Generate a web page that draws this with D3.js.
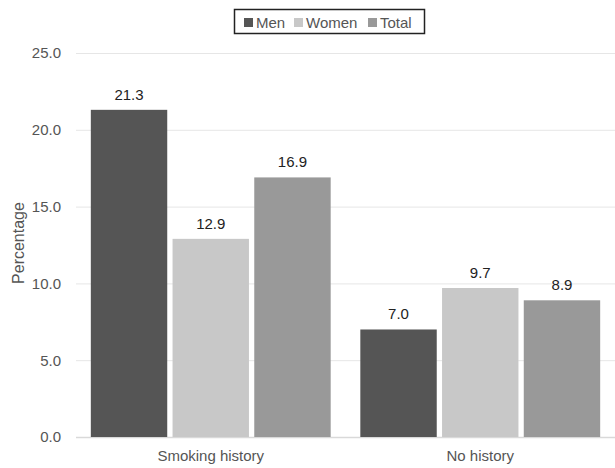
<!DOCTYPE html>
<html><head><meta charset="utf-8">
<script src="https://cdn.jsdelivr.net/npm/d3@7"></script>
<style>body{margin:0;background:#fff}svg{display:block}text{font-family:"Liberation Sans",Arial,sans-serif}</style>
</head><body><svg id="c" width="615" height="468"></svg>
<script>
const categories = ["Smoking history", "No history"];
const seriesNames = ["Men", "Women", "Total"];
const men = [21.3, 7.0];
const women = [12.9, 9.7];
const total = [16.9, 8.9];
const yTicks = [0, 5, 10, 15, 20, 25];
const colors = ["#555555", "#c8c8c8", "#999999"];

const seriesVals = [men, women, total];
const svg = d3.select("#c");
const m = {l: 76, r: 0, t: 53, b: 437};
const x0 = d3.scaleBand().domain(categories).range([m.l, 615]).paddingInner(0.11).paddingOuter(0.055);
const x1 = d3.scaleBand().domain(seriesNames).range([0, x0.bandwidth()]).paddingInner(0.065);
const y = d3.scaleLinear().domain([0, 25]).range([m.b, m.t]);
const FF = '"Liberation Sans",Arial,sans-serif';

// gridlines
svg.append("g").selectAll("line").data(yTicks).join("line")
  .attr("x1", m.l).attr("x2", 615)
  .attr("y1", d => y(d) + 0.5).attr("y2", d => y(d) + 0.5)
  .attr("stroke", d => d === 0 ? "#d9d9d9" : "#e6e6e6").attr("stroke-width", d => d === 0 ? 1.5 : 1);

// y axis
const ya = svg.append("g").attr("transform", `translate(${m.l - 12},0)`)
  .call(d3.axisLeft(y).tickValues(yTicks).tickFormat(d3.format(".1f")).tickSize(0));
ya.select(".domain").remove();
ya.selectAll("text").attr("font-size", 15).attr("fill", "#555").attr("font-family", FF);

// x axis
const xa = svg.append("g").attr("transform", `translate(0,${m.b})`)
  .call(d3.axisBottom(x0).tickSize(0).tickPadding(13));
xa.select(".domain").remove();
xa.selectAll("text").attr("font-size", 15).attr("fill", "#555").attr("font-family", FF);

// bars
const g = svg.append("g").selectAll("g").data(categories).join("g")
  .attr("transform", d => `translate(${x0(d)},0)`);
g.selectAll("rect").data((d, i) => seriesNames.map((s, j) => ({s, j, v: seriesVals[j][i]}))).join("rect")
  .attr("x", d => x1(d.s)).attr("width", x1.bandwidth())
  .attr("y", d => y(d.v)).attr("height", d => y(0) - y(d.v))
  .attr("fill", d => colors[d.j]);
g.selectAll("text.v").data((d, i) => seriesNames.map((s, j) => ({s, j, v: seriesVals[j][i]}))).join("text")
  .attr("class", "v")
  .attr("x", d => x1(d.s) + x1.bandwidth() / 2).attr("y", d => y(d.v) - 10)
  .attr("text-anchor", "middle").attr("font-size", 15).attr("fill", "#222")
  .text(d => d.v.toFixed(1));

// y label
svg.append("text").attr("transform", "translate(24,243) rotate(-90)")
  .attr("text-anchor", "middle").attr("font-size", 16).attr("fill", "#555").text("Percentage");

// legend
const lg = svg.append("g");
lg.append("rect").attr("x", 234.5).attr("y", 9.5).attr("width", 190).attr("height", 24)
  .attr("fill", "#fff").attr("stroke", "#222").attr("stroke-width", 1.5);
const lx = [244, 294, 368];
seriesNames.forEach((s, i) => {
  lg.append("rect").attr("x", lx[i]).attr("y", 18).attr("width", 9).attr("height", 9).attr("fill", colors[i]);
  lg.append("text").attr("x", lx[i] + 12).attr("y", 27.5).attr("font-size", 15).attr("fill", "#555").text(s);
});
</script></body></html>
